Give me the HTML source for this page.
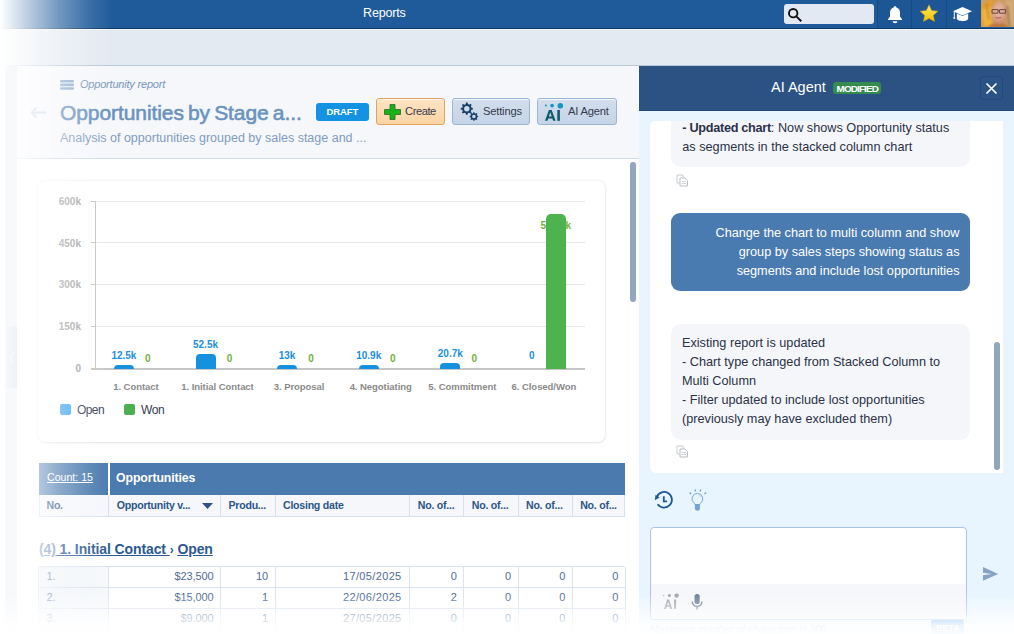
<!DOCTYPE html>
<html><head><meta charset="utf-8">
<style>
*{box-sizing:border-box;margin:0;padding:0}
html,body{width:1014px;height:634px;overflow:hidden}
body{font-family:"Liberation Sans",sans-serif;background:#f7f8fb;position:relative;color:#333}
.a{position:absolute}
.t{position:absolute;white-space:nowrap;line-height:1}
#hdr{left:0;top:0;width:1014px;height:29px;background:#1f5b9a;border-bottom:1px solid #0f3b6c}
#band{left:0;top:29px;width:1014px;height:37px;background:#e4eaf2;border-top:1px solid #f2f5f9;border-bottom:1px solid #b9c9da}
#leftstrip{left:0;top:66px;width:17px;height:568px;background:#f4f6fa}
#main{left:17px;top:66px;width:622px;height:568px;background:#fff;overflow:hidden}
#head{left:0;top:0;width:622px;height:93px;background:#f6f7fb;border-bottom:1px solid #cfdae6}
#ai{left:639px;top:66px;width:375px;height:568px;background:#e8f5fe;overflow:hidden}
#aihdr{left:0;top:0;width:375px;height:45px;background:#2c5284;border-bottom:1px solid #24497a}
#leftfade{left:0;top:0;width:112px;height:634px;background:linear-gradient(to right,rgba(255,255,255,1) 0px,rgba(255,255,255,.68) 30px,rgba(255,255,255,.36) 60px,rgba(255,255,255,.12) 90px,rgba(255,255,255,0) 112px)}
#botfade{left:0;top:594px;width:1014px;height:40px;background:linear-gradient(to bottom,rgba(255,255,255,0),rgba(255,255,255,.62) 55%,rgba(255,255,255,.88) 78%,rgba(255,255,255,.97))}
.btn{position:absolute;top:32px;height:27px;border-radius:3px;box-shadow:inset 0 1px 0 rgba(255,255,255,.75)}
</style></head><body>
<!-- header -->
<div id="hdr" class="a">
  <div class="t" style="left:363px;top:6.5px;font-size:12.5px;color:#fff;letter-spacing:-.15px">Reports</div>
  <div class="a" style="left:784px;top:4px;width:90px;height:20px;background:#e2e9f2;border-radius:3px"></div>
  <svg class="a" style="left:787px;top:7px" width="16" height="15" viewBox="0 0 16 15"><circle cx="6.2" cy="6.2" r="4.2" fill="none" stroke="#111" stroke-width="1.9"/><path d="M9.3 9.3L13.6 13.6" stroke="#111" stroke-width="1.9" stroke-linecap="square"/></svg>
  <div class="a" style="left:877px;top:0;width:104px;height:28px;background:#1d5694"></div>
  <div class="a" style="left:877px;top:0;width:1px;height:28px;background:#174a82"></div>
  <div class="a" style="left:911px;top:0;width:1px;height:28px;background:#174a82"></div>
  <div class="a" style="left:946px;top:0;width:1px;height:28px;background:#174a82"></div>
  <svg class="a" style="left:887px;top:5px" width="16" height="19" viewBox="0 0 16 19"><path d="M8 1.2c.9 0 1.4.6 1.4 1.3 2.6.6 3.6 2.8 3.6 5.4v3.6l2 2.7v.8H1v-.8l2-2.7V7.9c0-2.6 1-4.8 3.6-5.4 0-.7.5-1.3 1.4-1.3z" fill="#fff"/><path d="M5.6 16.2h4.8c0 1.3-1.1 2-2.4 2s-2.4-.7-2.4-2z" fill="#fff"/></svg>
  <svg class="a" style="left:919px;top:4px" width="20" height="19" viewBox="0 0 20 19"><defs><linearGradient id="sg" x1="0" y1="0" x2="0" y2="1"><stop offset="0" stop-color="#ffe86a"/><stop offset="1" stop-color="#f2c200"/></linearGradient></defs><path d="M10 .8l2.7 5.7 6.2.7-4.6 4.2 1.3 6.1L10 14.4l-5.6 3.1 1.3-6.1L1.1 7.2l6.2-.7z" fill="url(#sg)" stroke="#c99a00" stroke-width=".5"/></svg>
  <svg class="a" style="left:952px;top:6px" width="21" height="16" viewBox="0 0 21 16"><path d="M10.5 1L20 5.2 10.5 9.4 1 5.2z" fill="#fff"/><path d="M4.8 7.6v5c0 1.5 2.6 2.6 5.7 2.6s5.7-1.1 5.7-2.6v-5l-5.7 2.5z" fill="#fff"/><path d="M2.3 6v5.5" stroke="#fff" stroke-width="1"/><circle cx="2.3" cy="12" r="1" fill="#fff"/></svg>
  <svg class="a" style="left:981px;top:0" width="33" height="27" viewBox="0 0 33 27"><defs><radialGradient id="fc" cx=".5" cy=".42" r=".62"><stop offset="0" stop-color="#e9bba6"/><stop offset=".65" stop-color="#d9a08a"/><stop offset="1" stop-color="#c0805e"/></radialGradient><filter id="bl" x="-20%" y="-20%" width="140%" height="140%"><feGaussianBlur stdDeviation=".8"/></filter></defs>
<rect width="33" height="27" fill="#c99a5e"/>
<g filter="url(#bl)">
<rect x="0" y="0" width="7" height="5" fill="#a9a49a"/>
<path d="M0 5C2 0 8-1 13 0L10 27H0z" fill="#e3a030"/>
<path d="M2 9C0 15 2 22 5 27H11L10 7z" fill="#f0b43c"/>
<path d="M5 3C7 8 6 14 8 20" stroke="#b9782a" stroke-width="1.2" fill="none"/>
<path d="M23 0H33V27H26C27 18 27 8 23 0z" fill="#d2aa78"/>
<path d="M26 6C28 12 27 20 29 27" stroke="#8a6040" stroke-width="1.3" fill="none"/>
<ellipse cx="17.7" cy="12.5" rx="7.6" ry="11.5" fill="url(#fc)"/>
<path d="M9.5 5C11 1.5 15 0 19 0C15 2 12 5 10.5 10z" fill="#d89a3e"/>
<path d="M6 27C9 24 13 23.5 17.5 24.5C22 23.5 25 24 28 27z" fill="#c06a34"/>
</g>
<path d="M11 9.6h6v3.6h-6zM18.6 9.6h6v3.6h-6z" fill="none" stroke="#5a3e38" stroke-width=".9"/>
<path d="M17 10.8h1.6" stroke="#5a3e38" stroke-width=".8"/>
<path d="M14.6 17.4c1.4.8 4.4.8 5.8 0" fill="none" stroke="#a55848" stroke-width="1"/>
</svg>
</div>
<div id="band" class="a"></div>
<div id="leftstrip" class="a">
  <div class="a" style="left:6px;top:260px;width:11px;height:62px;background:#b9cbe0;border-radius:3px 0 0 3px"></div><svg class="a" style="left:8px;top:285px" width="7" height="12" viewBox="0 0 7 12"><path d="M5.5 1L1.5 6l4 5" fill="none" stroke="#fff" stroke-width="1.3"/></svg>
</div>

<!-- main -->
<div id="main" class="a">
  <div id="head" class="a">
    <svg class="a" style="left:43px;top:14px" width="14" height="10" viewBox="0 0 14 10"><rect x="0" y="0" width="14" height="2.6" rx="1" fill="#8eadd0"/><rect x="0" y="3.6" width="14" height="2.6" rx="1" fill="#8eadd0"/><rect x="0" y="7.2" width="14" height="2.6" rx="1" fill="#8eadd0"/></svg>
    <div class="t" style="left:63px;top:13px;font-size:11px;font-style:italic;color:#7796bb;letter-spacing:-.2px">Opportunity report</div>
    <svg class="a" style="left:12px;top:40px" width="18" height="13" viewBox="0 0 18 13"><path d="M17 6.5H2.5M7.5 1.5L2.5 6.5 7.5 11.5" fill="none" stroke="#c3d3e4" stroke-width="2"/></svg>
    <div class="t" style="left:43px;top:36px;font-size:21px;color:#6a93c0;letter-spacing:-.08px;word-spacing:-1.6px;-webkit-text-stroke:.6px #6a93c0">Opportunities by Stage a...</div>
    <div class="t" style="left:43px;top:66px;font-size:12.5px;color:#7e9cc1">Analysis of opportunities grouped by sales stage and ...</div>
    <div class="a" style="left:299px;top:37px;width:53px;height:18px;background:#1593e3;border-radius:3px"></div>
    <div class="t" style="left:309.5px;top:40.5px;font-size:9.5px;font-weight:bold;color:#fff;letter-spacing:-.1px">DRAFT</div>
    <div class="btn" style="left:359px;width:69px;background:linear-gradient(#fde4c4,#fbd4a4);border:1px solid #e2a25d"></div>
    <svg class="a" style="left:367px;top:38px" width="17" height="16" viewBox="0 0 17 16"><path d="M6 .5h5v5h5.5v5H11v5H6v-5H.5v-5H6z" fill="#17b216" stroke="#246b23" stroke-width=".8"/></svg>
    <div class="t" style="left:388px;top:40px;font-size:11.2px;color:#343b4c;letter-spacing:-.45px">Create</div>
    <div class="btn" style="left:435px;width:78px;background:linear-gradient(#d2deed,#c5d4e7);border:1px solid #9ab4d3"></div>
    <svg class="a" style="left:442px;top:36px" width="20" height="19" viewBox="0 0 20 19"><g fill="#1b3f66"><path d="M7 0.6h1.6l.3 1.5a5 5 0 0 1 1.4.6l1.3-.9 1.1 1.1-.9 1.3a5 5 0 0 1 .6 1.4l1.5.3v1.6l-1.5.3a5 5 0 0 1-.6 1.4l.9 1.3-1.1 1.1-1.3-.9a5 5 0 0 1-1.4.6l-.3 1.5H7l-.3-1.5a5 5 0 0 1-1.4-.6l-1.3.9-1.1-1.1.9-1.3a5 5 0 0 1-.6-1.4L1.7 7.6V6l1.5-.3a5 5 0 0 1 .6-1.4l-.9-1.3 1.1-1.1 1.3.9a5 5 0 0 1 1.4-.6z M7.8 4.1a2.7 2.7 0 1 0 0 5.4 2.7 2.7 0 1 0 0-5.4z" fill-rule="evenodd"/><path d="M14.3 10.2h1.2l.2 1a3.5 3.5 0 0 1 1 .4l.9-.6.8.8-.6.9a3.5 3.5 0 0 1 .4 1l1 .2v1.2l-1 .2a3.5 3.5 0 0 1-.4 1l.6.9-.8.8-.9-.6a3.5 3.5 0 0 1-1 .4l-.2 1h-1.2l-.2-1a3.5 3.5 0 0 1-1-.4l-.9.6-.8-.8.6-.9a3.5 3.5 0 0 1-.4-1l-1-.2v-1.2l1-.2a3.5 3.5 0 0 1 .4-1l-.6-.9.8-.8.9.6a3.5 3.5 0 0 1 1-.4z M14.9 12.7a1.8 1.8 0 1 0 0 3.6 1.8 1.8 0 1 0 0-3.6z" fill-rule="evenodd"/></g></svg>
    <div class="t" style="left:466px;top:40px;font-size:11.2px;color:#343b4c;letter-spacing:-.2px">Settings</div>
    <div class="btn" style="left:520px;width:80px;background:linear-gradient(#d2deed,#c5d4e7);border:1px solid #9ab4d3"></div>
    <svg class="a" style="left:527px;top:36px" width="22" height="22" viewBox="0 0 22 22"><circle cx="1.9" cy="3.6" r="1" fill="#1796bf"/><circle cx="8.1" cy="3.6" r="1.9" fill="#1796bf"/><circle cx="16.3" cy="3.8" r="2.8" fill="#1796bf"/><path d="M1 18.8L4.9 8h2.8l3.9 10.8H9.1l-.8-2.4H4.3l-.8 2.4z M4.9 14.4h2.8L6.3 10.2z" fill="#0f5a6c" fill-rule="evenodd"/><rect x="13.3" y="8" width="2.6" height="10.8" fill="#0f5a6c"/></svg>
    <div class="t" style="left:551px;top:40px;font-size:11.2px;color:#343b4c;letter-spacing:-.2px">AI Agent</div>
  </div>
  <div class="a" style="left:-17px;top:-66px;width:1014px;height:634px">
<div class="a" style="left:38px;top:181px;width:567px;height:261px;background:#fff;border-radius:7px;box-shadow:0 0 3px rgba(0,0,0,.13),0 1px 2px rgba(0,0,0,.06)"></div>
<div class="a" style="left:91px;top:201px;width:494px;height:1px;background:#e6e6e6"></div>
<div class="a" style="left:91px;top:201px;width:5px;height:1px;background:#c4c4c4"></div>
<div class="t" style="left:40px;width:41px;text-align:right;top:196.7px;font-size:10px;font-weight:bold;color:#a3a3a3">600k</div>
<div class="a" style="left:91px;top:242px;width:494px;height:1px;background:#e6e6e6"></div>
<div class="a" style="left:91px;top:242px;width:5px;height:1px;background:#c4c4c4"></div>
<div class="t" style="left:40px;width:41px;text-align:right;top:238.5px;font-size:10px;font-weight:bold;color:#a3a3a3">450k</div>
<div class="a" style="left:91px;top:284px;width:494px;height:1px;background:#e6e6e6"></div>
<div class="a" style="left:91px;top:284px;width:5px;height:1px;background:#c4c4c4"></div>
<div class="t" style="left:40px;width:41px;text-align:right;top:280.4px;font-size:10px;font-weight:bold;color:#a3a3a3">300k</div>
<div class="a" style="left:91px;top:326px;width:494px;height:1px;background:#e6e6e6"></div>
<div class="a" style="left:91px;top:326px;width:5px;height:1px;background:#c4c4c4"></div>
<div class="t" style="left:40px;width:41px;text-align:right;top:322.2px;font-size:10px;font-weight:bold;color:#a3a3a3">150k</div>
<div class="t" style="left:40px;width:41px;text-align:right;top:364px;font-size:10px;font-weight:bold;color:#a3a3a3">0</div>
<div class="a" style="left:95px;top:201px;width:1px;height:168px;background:#c4c4c4"></div>
<div class="a" style="left:91px;top:368px;width:494px;height:2px;background:#c6c6c6"></div>
<div class="t" style="left:85.9px;width:100px;text-align:center;top:382px;font-size:9.5px;font-weight:bold;color:#8a8a8a;letter-spacing:-.05px">1. Contact</div>
<div class="a" style="left:113.9px;top:364.8px;width:20px;height:4.0px;background:#1591e0;border-radius:4px 4px 0 0"></div>
<div class="t" style="left:93.9px;width:60px;text-align:center;top:350.8px;font-size:10px;font-weight:bold;color:#1a8fe0">12.5k</div>
<div class="t" style="left:117.9px;width:60px;text-align:center;top:353.5px;font-size:10px;font-weight:bold;color:#6fb23a">0</div>
<div class="t" style="left:167.5px;width:100px;text-align:center;top:382px;font-size:9.5px;font-weight:bold;color:#8a8a8a;letter-spacing:-.05px">1. Initial Contact</div>
<div class="a" style="left:195.5px;top:353.7px;width:20px;height:15.1px;background:#1591e0;border-radius:4px 4px 0 0"></div>
<div class="t" style="left:175.5px;width:60px;text-align:center;top:339.7px;font-size:10px;font-weight:bold;color:#1a8fe0">52.5k</div>
<div class="t" style="left:199.5px;width:60px;text-align:center;top:353.5px;font-size:10px;font-weight:bold;color:#6fb23a">0</div>
<div class="t" style="left:249.1px;width:100px;text-align:center;top:382px;font-size:9.5px;font-weight:bold;color:#8a8a8a;letter-spacing:-.05px">3. Proposal</div>
<div class="a" style="left:277.1px;top:364.7px;width:20px;height:4.1px;background:#1591e0;border-radius:4px 4px 0 0"></div>
<div class="t" style="left:257.1px;width:60px;text-align:center;top:350.7px;font-size:10px;font-weight:bold;color:#1a8fe0">13k</div>
<div class="t" style="left:281.1px;width:60px;text-align:center;top:353.5px;font-size:10px;font-weight:bold;color:#6fb23a">0</div>
<div class="t" style="left:330.7px;width:100px;text-align:center;top:382px;font-size:9.5px;font-weight:bold;color:#8a8a8a;letter-spacing:-.05px">4. Negotiating</div>
<div class="a" style="left:358.7px;top:364.8px;width:20px;height:4.0px;background:#1591e0;border-radius:4px 4px 0 0"></div>
<div class="t" style="left:338.7px;width:60px;text-align:center;top:350.8px;font-size:10px;font-weight:bold;color:#1a8fe0">10.9k</div>
<div class="t" style="left:362.7px;width:60px;text-align:center;top:353.5px;font-size:10px;font-weight:bold;color:#6fb23a">0</div>
<div class="t" style="left:412.3px;width:100px;text-align:center;top:382px;font-size:9.5px;font-weight:bold;color:#8a8a8a;letter-spacing:-.05px">5. Commitment</div>
<div class="a" style="left:440.3px;top:362.5px;width:20px;height:6.3px;background:#1591e0;border-radius:4px 4px 0 0"></div>
<div class="t" style="left:420.3px;width:60px;text-align:center;top:348.5px;font-size:10px;font-weight:bold;color:#1a8fe0">20.7k</div>
<div class="t" style="left:444.3px;width:60px;text-align:center;top:353.5px;font-size:10px;font-weight:bold;color:#6fb23a">0</div>
<div class="t" style="left:493.9px;width:100px;text-align:center;top:382px;font-size:9.5px;font-weight:bold;color:#8a8a8a;letter-spacing:-.05px">6. Closed/Won</div>
<div class="t" style="left:501.9px;width:60px;text-align:center;top:351px;font-size:10px;font-weight:bold;color:#1a8fe0">0</div>
<div class="t" style="left:525.9px;width:60px;text-align:center;top:221px;font-size:10px;font-weight:bold;color:#6fb23a">554.1k</div>
<div class="a" style="left:545.9px;top:214.2px;width:20px;height:155px;background:#4db34f;border-radius:5px 5px 0 0"></div>
<div class="a" style="left:60px;top:404px;width:11px;height:11px;background:#3fa6ef;border-radius:2px"></div>
<div class="t" style="left:77px;top:403.5px;font-size:12px;color:#363c55;letter-spacing:-.6px">Open</div>
<div class="a" style="left:124px;top:404px;width:11px;height:11px;background:#4caf50;border-radius:2px"></div>
<div class="t" style="left:141px;top:403.5px;font-size:12px;color:#363c55;letter-spacing:-.35px">Won</div>
<div class="a" style="left:38.5px;top:463px;width:586.5px;height:32px;background:#4a7aae"></div>
<div class="a" style="left:108px;top:463px;width:1.5px;height:32px;background:#fff"></div>
<div class="t" style="left:47px;top:471.7px;font-size:10.6px;color:#fff;text-decoration:underline">Count: 15</div>
<div class="t" style="left:116px;top:471.5px;font-size:12.3px;font-weight:bold;color:#fff;letter-spacing:-.1px">Opportunities</div>
<div class="a" style="left:38.5px;top:495px;width:586.5px;height:22px;background:#f5f7fb;border:1px solid #d8e1ec;border-top:none"></div>
<div class="a" style="left:108.3px;top:495px;width:1px;height:21px;background:#d8e1ec"></div>
<div class="a" style="left:220.0px;top:495px;width:1px;height:21px;background:#d8e1ec"></div>
<div class="a" style="left:274.5px;top:495px;width:1px;height:21px;background:#d8e1ec"></div>
<div class="a" style="left:409.3px;top:495px;width:1px;height:21px;background:#d8e1ec"></div>
<div class="a" style="left:463.3px;top:495px;width:1px;height:21px;background:#d8e1ec"></div>
<div class="a" style="left:517.5px;top:495px;width:1px;height:21px;background:#d8e1ec"></div>
<div class="a" style="left:571.7px;top:495px;width:1px;height:21px;background:#d8e1ec"></div>
<div class="t" style="left:46.5px;top:499.5px;font-size:10.6px;font-weight:bold;color:#2c5689;letter-spacing:-.25px">No.</div>
<div class="t" style="left:116.8px;top:499.5px;font-size:10.6px;font-weight:bold;color:#2c5689;letter-spacing:-.25px">Opportunity v...</div>
<div class="t" style="left:228.5px;top:499.5px;font-size:10.6px;font-weight:bold;color:#2c5689;letter-spacing:-.25px">Produ...</div>
<div class="t" style="left:283.0px;top:499.5px;font-size:10.6px;font-weight:bold;color:#2c5689;letter-spacing:-.25px">Closing date</div>
<div class="t" style="left:417.8px;top:499.5px;font-size:10.6px;font-weight:bold;color:#2c5689;letter-spacing:-.25px">No. of...</div>
<div class="t" style="left:471.8px;top:499.5px;font-size:10.6px;font-weight:bold;color:#2c5689;letter-spacing:-.25px">No. of...</div>
<div class="t" style="left:526.0px;top:499.5px;font-size:10.6px;font-weight:bold;color:#2c5689;letter-spacing:-.25px">No. of...</div>
<div class="t" style="left:580.2px;top:499.5px;font-size:10.6px;font-weight:bold;color:#2c5689;letter-spacing:-.25px">No. of...</div>
<svg class="a" style="left:202px;top:503px" width="11" height="6" viewBox="0 0 11 6"><path d="M0 0h11L5.5 6z" fill="#2d5386"/></svg>
<div class="t" style="left:39px;top:542px;font-size:14px;font-weight:bold;color:#2b5994;letter-spacing:-.1px"><span style="color:#7393bb;text-decoration:underline">(4)</span><span style="text-decoration:underline"> 1. Initial Contact </span><span style="font-size:12px">›</span> <span style="text-decoration:underline">Open</span></div>
<div class="a" style="left:38.5px;top:566.5px;width:70px;height:84px;background:linear-gradient(to right,#eef2f8,#f6f8fb)"></div>
<div class="a" style="left:38.5px;top:566.2px;width:586.5px;height:1px;background:#dbe3ee"></div>
<div class="t" style="left:46.5px;top:570.5px;font-size:11px;color:#6585ad">1.</div>
<div class="t" style="left:108.8px;width:104.7px;text-align:right;top:570.5px;font-size:11px;color:#4f6d96;letter-spacing:-.1px">$23,500</div>
<div class="t" style="left:220.5px;width:47.5px;text-align:right;top:570.5px;font-size:11px;color:#4f6d96;letter-spacing:-.1px">10</div>
<div class="t" style="left:275.0px;width:126.6px;text-align:right;top:570.5px;font-size:11px;color:#4f6d96;letter-spacing:.35px">17/05/2025</div>
<div class="t" style="left:409.8px;width:47.0px;text-align:right;top:570.5px;font-size:11px;color:#4f6d96;letter-spacing:-.1px">0</div>
<div class="t" style="left:463.8px;width:47.2px;text-align:right;top:570.5px;font-size:11px;color:#4f6d96;letter-spacing:-.1px">0</div>
<div class="t" style="left:518.0px;width:47.2px;text-align:right;top:570.5px;font-size:11px;color:#4f6d96;letter-spacing:-.1px">0</div>
<div class="t" style="left:572.2px;width:46.2px;text-align:right;top:570.5px;font-size:11px;color:#4f6d96;letter-spacing:-.1px">0</div>
<div class="a" style="left:38.5px;top:587.2px;width:586.5px;height:1px;background:#dbe3ee"></div>
<div class="t" style="left:46.5px;top:591.5px;font-size:11px;color:#6585ad">2.</div>
<div class="t" style="left:108.8px;width:104.7px;text-align:right;top:591.5px;font-size:11px;color:#4f6d96;letter-spacing:-.1px">$15,000</div>
<div class="t" style="left:220.5px;width:47.5px;text-align:right;top:591.5px;font-size:11px;color:#4f6d96;letter-spacing:-.1px">1</div>
<div class="t" style="left:275.0px;width:126.6px;text-align:right;top:591.5px;font-size:11px;color:#4f6d96;letter-spacing:.35px">22/06/2025</div>
<div class="t" style="left:409.8px;width:47.0px;text-align:right;top:591.5px;font-size:11px;color:#4f6d96;letter-spacing:-.1px">2</div>
<div class="t" style="left:463.8px;width:47.2px;text-align:right;top:591.5px;font-size:11px;color:#4f6d96;letter-spacing:-.1px">0</div>
<div class="t" style="left:518.0px;width:47.2px;text-align:right;top:591.5px;font-size:11px;color:#4f6d96;letter-spacing:-.1px">0</div>
<div class="t" style="left:572.2px;width:46.2px;text-align:right;top:591.5px;font-size:11px;color:#4f6d96;letter-spacing:-.1px">0</div>
<div class="a" style="left:38.5px;top:608.2px;width:586.5px;height:1px;background:#dbe3ee"></div>
<div class="t" style="left:46.5px;top:612.5px;font-size:11px;color:#6585ad">3.</div>
<div class="t" style="left:108.8px;width:104.7px;text-align:right;top:612.5px;font-size:11px;color:#4f6d96;letter-spacing:-.1px">$9,000</div>
<div class="t" style="left:220.5px;width:47.5px;text-align:right;top:612.5px;font-size:11px;color:#4f6d96;letter-spacing:-.1px">1</div>
<div class="t" style="left:275.0px;width:126.6px;text-align:right;top:612.5px;font-size:11px;color:#4f6d96;letter-spacing:.35px">27/05/2025</div>
<div class="t" style="left:409.8px;width:47.0px;text-align:right;top:612.5px;font-size:11px;color:#4f6d96;letter-spacing:-.1px">0</div>
<div class="t" style="left:463.8px;width:47.2px;text-align:right;top:612.5px;font-size:11px;color:#4f6d96;letter-spacing:-.1px">0</div>
<div class="t" style="left:518.0px;width:47.2px;text-align:right;top:612.5px;font-size:11px;color:#4f6d96;letter-spacing:-.1px">0</div>
<div class="t" style="left:572.2px;width:46.2px;text-align:right;top:612.5px;font-size:11px;color:#4f6d96;letter-spacing:-.1px">0</div>
<div class="a" style="left:38.5px;top:629.2px;width:586.5px;height:1px;background:#dbe3ee"></div>
<div class="t" style="left:46.5px;top:633.5px;font-size:11px;color:#6585ad">4.</div>
<div class="t" style="left:108.8px;width:104.7px;text-align:right;top:633.5px;font-size:11px;color:#4f6d96;letter-spacing:-.1px">$5,000</div>
<div class="t" style="left:220.5px;width:47.5px;text-align:right;top:633.5px;font-size:11px;color:#4f6d96;letter-spacing:-.1px">1</div>
<div class="t" style="left:275.0px;width:126.6px;text-align:right;top:633.5px;font-size:11px;color:#4f6d96;letter-spacing:.35px">01/06/2025</div>
<div class="t" style="left:409.8px;width:47.0px;text-align:right;top:633.5px;font-size:11px;color:#4f6d96;letter-spacing:-.1px">0</div>
<div class="t" style="left:463.8px;width:47.2px;text-align:right;top:633.5px;font-size:11px;color:#4f6d96;letter-spacing:-.1px">0</div>
<div class="t" style="left:518.0px;width:47.2px;text-align:right;top:633.5px;font-size:11px;color:#4f6d96;letter-spacing:-.1px">0</div>
<div class="t" style="left:572.2px;width:46.2px;text-align:right;top:633.5px;font-size:11px;color:#4f6d96;letter-spacing:-.1px">0</div>
<div class="a" style="left:38.0px;top:566.5px;width:1px;height:70px;background:#dbe3ee"></div>
<div class="a" style="left:108.3px;top:566.5px;width:1px;height:70px;background:#dbe3ee"></div>
<div class="a" style="left:220.0px;top:566.5px;width:1px;height:70px;background:#dbe3ee"></div>
<div class="a" style="left:274.5px;top:566.5px;width:1px;height:70px;background:#dbe3ee"></div>
<div class="a" style="left:409.3px;top:566.5px;width:1px;height:70px;background:#dbe3ee"></div>
<div class="a" style="left:463.3px;top:566.5px;width:1px;height:70px;background:#dbe3ee"></div>
<div class="a" style="left:517.5px;top:566.5px;width:1px;height:70px;background:#dbe3ee"></div>
<div class="a" style="left:571.7px;top:566.5px;width:1px;height:70px;background:#dbe3ee"></div>
<div class="a" style="left:624.9px;top:566.5px;width:1px;height:70px;background:#dbe3ee"></div>
  </div>
  <!-- scrollbar -->
  <div class="a" style="left:613px;top:96px;width:6px;height:140px;background:#90a7bf;border-radius:3px"></div>
</div>

<!-- AI panel -->
<div id="ai" class="a">
  <div id="aihdr" class="a">
    <div class="t" style="left:132px;top:13.5px;font-size:14.5px;color:#fff">AI Agent</div>
    <div class="a" style="left:194px;top:16px;width:48px;height:12px;background:#368b4e;border-radius:3px"></div>
    <div class="t" style="left:197.5px;top:18px;font-size:9.9px;font-weight:bold;color:#fff;letter-spacing:-.85px">MODIFIED</div>
    <div class="a" style="left:341px;top:10px;width:23px;height:24px;border:1px solid #254878;border-radius:3px;background:#2c5385"></div>
    <svg class="a" style="left:346px;top:16px" width="13" height="13" viewBox="0 0 13 13"><path d="M1.5 1.5l10 10M11.5 1.5l-10 10" stroke="#fff" stroke-width="1.7"/></svg>
  </div>
<div class="a" style="left:-639px;top:-66px;width:1014px;height:634px">
<div class="a" style="left:649.5px;top:121px;width:353.5px;height:352px;background:#fff;border-radius:5px 0 0 6px;overflow:hidden">
<div class="a" style="left:-649.5px;top:-121px;width:1014px;height:634px">
<div class="a" style="left:671px;top:60px;width:299px;height:107.3px;background:#f4f6fa;border-radius:10px"></div>
<div class="t" style="left:682.3px;top:118.7px;font-size:12.7px;line-height:19px;color:#2b3247"><b style="letter-spacing:-.3px">- Updated chart</b>: Now shows Opportunity status<br>as segments in the stacked column chart</div>
<svg class="a" style="left:675.5px;top:173.5px" width="13" height="13" viewBox="0 0 13 13"><path d="M1 1h6v2.5M1 1v8h2.5" fill="none" stroke="#c5cbd3" stroke-width="1"/><path d="M4 4h5l2.5 2.5V12H4z" fill="#fff" stroke="#b9c0c9" stroke-width="1"/><path d="M5.5 7.5h4.5M5.5 9.5h4.5" stroke="#c5cbd3" stroke-width=".8"/></svg>
<div class="a" style="left:671px;top:213.3px;width:299px;height:77.5px;background:#4a7bb0;border-radius:9px"></div>
<div class="t" style="left:671px;width:288.5px;text-align:right;top:223.8px;font-size:12.7px;line-height:19px;color:#fff">Change the chart to multi column and show<br>group by sales steps showing status as<br>segments and include lost opportunities</div>
<div class="a" style="left:671px;top:324.4px;width:299px;height:115.2px;background:#f4f6fa;border-radius:10px"></div>
<div class="t" style="left:682px;top:333.6px;font-size:12.7px;line-height:19px;color:#2b3247">Existing report is updated<br>- Chart type changed from Stacked Column to<br>Multi Column<br>- Filter updated to include lost opportunities<br>(previously may have excluded them)</div>
<svg class="a" style="left:675.5px;top:444.5px" width="13" height="13" viewBox="0 0 13 13"><path d="M1 1h6v2.5M1 1v8h2.5" fill="none" stroke="#c5cbd3" stroke-width="1"/><path d="M4 4h5l2.5 2.5V12H4z" fill="#fff" stroke="#b9c0c9" stroke-width="1"/><path d="M5.5 7.5h4.5M5.5 9.5h4.5" stroke="#c5cbd3" stroke-width=".8"/></svg>
</div></div>
<div class="a" style="left:994px;top:342px;width:6px;height:128px;background:#8fa6be;border-radius:3px"></div>
<svg class="a" style="left:654px;top:490px" width="20" height="20" viewBox="0 0 20 20"><path d="M2.9 6.8A7.8 7.8 0 1 1 3.7 14.2" fill="none" stroke="#1b5a96" stroke-width="1.8"/><path d="M0.7 10.3L1.6 4.8 5.6 7.6z" fill="#1b5a96"/><path d="M9.8 6.2v5.2h3.3" fill="none" stroke="#1b5a96" stroke-width="1.8"/></svg>
<svg class="a" style="left:688px;top:488px" width="20" height="24" viewBox="0 0 20 24"><path d="M9.4 5.4a5.4 5.4 0 0 0-3.1 9.8c.6.5.8 1 .8 1.4h4.6c0-.4.2-.9.8-1.4A5.4 5.4 0 0 0 9.4 5.4z" fill="none" stroke="#7aaad6" stroke-width="1"/><path d="M6.9 16h5v4.6c0 1.3-1.1 2.2-2.5 2.2s-2.5-.9-2.5-2.2z" fill="#6fa3d3"/><path d="M1.6 4.6l1.6 1.4M7 1.4l.6 2.1M12.7 1.4l-.6 2.1M18.1 4.6l-1.6 1.4" stroke="#6fa3d3" stroke-width="1.3"/><path d="M10.8 7.2a3 3 0 0 1 2 2" fill="none" stroke="#b5d0ea" stroke-width=".8"/></svg>
<div class="a" style="left:650.3px;top:527.4px;width:316.5px;height:93px;background:#fff;border:1px solid #a9c6e6;border-radius:4px;overflow:hidden"><div class="a" style="left:0;top:56px;width:100%;height:40px;background:#f5f7fa"></div></div>
<svg class="a" style="left:662px;top:592px" width="18" height="18" viewBox="0 0 18 18"><circle cx="1.7" cy="3.6" r=".7" fill="#a3a6aa"/><circle cx="7.4" cy="3.6" r="1.5" fill="#a3a6aa"/><circle cx="14.6" cy="3.6" r="2.2" fill="#a3a6aa"/><path d="M2 16.9L5.1 7.5h2.1l3.1 9.4H8.4l-.7-2.1H4.6l-.7 2.1z M5 13.2h2.3L6.15 9.5z" fill="#a3a6aa" fill-rule="evenodd"/><rect x="12" y="7.5" width="2.1" height="9.4" fill="#a3a6aa"/></svg>
<svg class="a" style="left:690px;top:593px" width="14" height="18" viewBox="0 0 14 18"><rect x="4.5" y="1" width="5.2" height="10" rx="2.6" fill="#6c819b"/><path d="M2.2 8.6a4.9 4.9 0 0 0 9.8 0" fill="none" stroke="#6c819b" stroke-width="1.4"/><path d="M7.1 13.4V16.6" stroke="#6c819b" stroke-width="1.4"/></svg>
<svg class="a" style="left:982px;top:566px" width="18" height="16" viewBox="0 0 18 16"><path d="M1 1.1L16.2 8 1 14.8z" fill="#86a3c4"/><path d="M.5 6.8L10 8 .5 9.2z" fill="#edf6fd"/></svg>
<div class="t" style="left:650px;top:624px;font-size:10.6px;font-style:italic;color:#9aa8b8;letter-spacing:-.1px">Maximum number of characters is 300</div>
<div class="a" style="left:931px;top:620px;width:33px;height:16px;background:#5ea4e6;border-radius:2px"></div>
<div class="t" style="left:936px;top:624px;font-size:9px;font-weight:bold;color:#fff">BETA</div>
</div>
</div>

<div id="leftfade" class="a"></div>
<div class="a" style="left:5px;top:66px;width:12px;height:568px;background:rgba(226,233,242,.22)"></div>
<div id="botfade" class="a"></div>
</body></html>
